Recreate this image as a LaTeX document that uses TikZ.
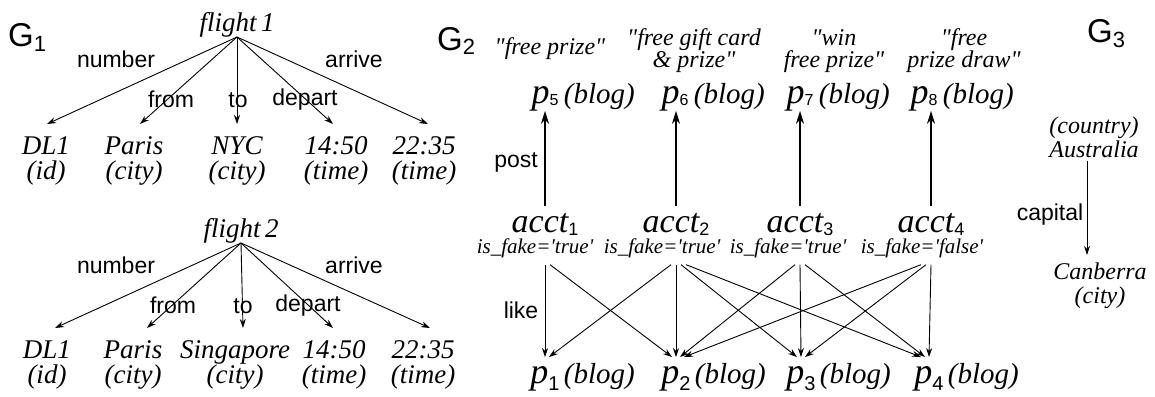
\documentclass[tikz,border=0pt]{standalone}
\usepackage{fontspec}
\setmainfont{Liberation Serif}
\setsansfont{Liberation Sans}
\usepackage{tikz}
\usetikzlibrary{arrows.meta,positioning}

\newcommand{\sfsub}[3]{\raisebox{-#1}{\sffamily\upshape\fontsize{#2}{#2}\selectfont #3}}
\newcommand{\dq}{\textquotedbl}

\begin{document}
\begin{tikzpicture}[
    x=1pt, y=-1pt,
    gname/.style={font=\fontsize{33}{33}\selectfont\sffamily, inner sep=0pt, anchor=base west},
    flight/.style={font=\fontsize{27}{27}\selectfont\itshape, inner sep=0pt, anchor=south},
    leaf/.style={font=\fontsize{27}{25.5}\selectfont\itshape, align=center, inner xsep=0pt, inner ysep=12pt, anchor=north},
    edgelbl/.style={font=\fontsize{23}{23}\selectfont\sffamily, inner sep=0pt, anchor=base},
    qtext/.style={font=\fontsize{24}{22}\selectfont\itshape, align=center, inner sep=0pt},
    pnode/.style={font=\fontsize{36}{36}\selectfont\itshape, inner sep=0pt, anchor=base},
    blog/.style={font=\fontsize{29}{29}\selectfont\itshape, inner sep=0pt, anchor=base west},
    acct/.style={font=\fontsize{34}{34}\selectfont\itshape, inner xsep=0pt, inner ysep=7pt, anchor=base},
    fakelbl/.style={font=\fontsize{21}{21}\selectfont\itshape, inner xsep=0pt, inner ysep=7pt, anchor=base},
    place/.style={font=\fontsize{24}{24}\selectfont\itshape, align=center, inner xsep=0pt, inner ysep=3pt, anchor=north},
    arrow/.style={-{Stealth[length=9pt,width=6pt]}, line width=0.9pt},
    thickarrow/.style={-{Stealth[length=13pt,width=8pt]}, line width=2.2pt}
]
    \useasboundingbox (0,0) rectangle (1155,396);

    % G1
    \node[gname] (g1) at (8,47) {G\sfsub{5pt}{22}{1}};
    \node[flight] (fl1) at (237,37) {flight\,1};
    \node[leaf] (id1) at (46,124) {DL1\\(id)};
    \node[leaf] (from1) at (134,124) {Paris\\(city)};
    \node[leaf] (to1) at (237,124) {NYC\\(city)};
    \node[leaf] (dep1) at (336,124) {14:50\\(time)};
    \node[leaf] (arr1) at (424,124) {22:35\\(time)};
    \foreach \n/\s in {id1/1, from1/6, to1/0, dep1/-3, arr1/4}
        \draw[arrow] (fl1.south) -- ([xshift=\s pt]\n.north);
    \node[edgelbl] (lnum1) at (116,67) {number};
    \node[edgelbl] (lfrom1) at (171,107) {from};
    \node[edgelbl] (lto1) at (238,107) {to};
    \node[edgelbl] (ldep1) at (305,105) {depart};
    \node[edgelbl] (larr1) at (354,67) {arrive};

    \node[flight] (fl2) at (241,243) {flight\,2};
    \node[leaf] (id2) at (47,328) {DL1\\(id)};
    \node[leaf] (from2) at (133,328) {Paris\\(city)};
    \node[leaf] (to2) at (235,328) {Singapore\\(city)};
    \node[leaf] (dep2) at (334,328) {14:50\\(time)};
    \node[leaf] (arr2) at (423,328) {22:35\\(time)};
    \foreach \n/\s in {id2/8, from2/14, to2/8, dep2/-1, arr2/7}
        \draw[arrow] (fl2.south) -- ([xshift=\s pt]\n.north);
    \node[edgelbl] (lnum2) at (116,273) {number};
    \node[edgelbl] (lfrom2) at (173,313) {from};
    \node[edgelbl] (lto2) at (243,313) {to};
    \node[edgelbl] (ldep2) at (308,311) {depart};
    \node[edgelbl] (larr2) at (354,273) {arrive};

    % G2
    \node[gname] (g2) at (437,50) {G\sfsub{5pt}{22}{2}};
    \node[qtext] (q5) at (550,49) {\dq free prize\dq};
    \node[qtext] (q6) at (694,51) {\dq free gift card\\\& prize\dq};
    \node[qtext] (q7) at (834,51) {\dq win\\free prize\dq};
    \node[qtext] (q8) at (964,51) {\dq free\\prize draw\dq};

    \node[pnode] (p5) at (545,103) {p\sfsub{2pt}{16}{5}};
    \node[pnode] (p6) at (675,103) {p\sfsub{2pt}{16}{6}};
    \node[pnode] (p7) at (800,103) {p\sfsub{2pt}{16}{7}};
    \node[pnode] (p8) at (924,103) {p\sfsub{2pt}{16}{8}};
    \foreach \k in {5,...,8}
        \node[blog] (b\k) at ([xshift=5pt]p\k.base east) {(blog)};

    \node[acct] (a1) at (545,232) {acct\sfsub{3pt}{18}{1}};
    \node[acct] (a2) at (676,232) {acct\sfsub{3pt}{18}{2}};
    \node[acct] (a3) at (800,232) {acct\sfsub{3pt}{18}{3}};
    \node[acct] (a4) at (931,232) {acct\sfsub{3pt}{18}{4}};
    \node[fakelbl] (f1) at (535,253) {is\_fake=\textquotesingle true\textquotesingle};
    \node[fakelbl] (f2) at (662,253) {is\_fake=\textquotesingle true\textquotesingle};
    \node[fakelbl] (f3) at (788,253) {is\_fake=\textquotesingle true\textquotesingle};
    \node[fakelbl] (f4) at (922,253) {is\_fake=\textquotesingle false\textquotesingle};

    \foreach \a/\p in {1/5, 2/6, 3/7, 4/8}
        \draw[thickarrow] (a\a.north) -- (a\a.north |- p\p.south);
    \node[edgelbl] (lpost) at (516,167) {post};

    \node[pnode, outer ysep=9pt] (p1) at (545,383) {p\sfsub{7pt}{20}{1}};
    \node[pnode, outer ysep=9pt] (p2) at (676,383) {p\sfsub{7pt}{20}{2}};
    \node[pnode, outer ysep=9pt] (p3) at (801,383) {p\sfsub{7pt}{20}{3}};
    \node[pnode, outer ysep=9pt] (p4) at (929,383) {p\sfsub{7pt}{20}{4}};
    \foreach \k in {1,...,4}
        \node[blog] (b\k) at ([xshift=4pt]p\k.base east) {(blog)};

    \foreach \a/\p in {1/1, 1/2, 2/1, 2/2, 2/3, 2/4, 3/2, 3/3, 3/4, 4/2, 4/3, 4/4} {
        \pgfmathsetmacro\sx{5*(\p-\a)}
        \pgfmathsetmacro\tx{4*(\a-\p)}
        \draw[arrow] ([xshift=\sx pt]f\a.south -| a\a) -- ([xshift=\tx pt]p\p.north);
    }
    \node[edgelbl] (llike) at (521,318) {like};

    % G3
    \node[gname] (g3) at (1087,43) {G\sfsub{5pt}{22}{3}};
    \node[place] (aus) at (1094,114) {(country)\\Australia};
    \node[place, inner ysep=8pt] (can) at (1100,255) {Canberra\\(city)};
    \draw[arrow] ([xshift=-7pt]aus.south) -- ([xshift=-7pt]aus.south |- can.north);
    \node[edgelbl] (lcap) at (1050,220) {capital};
\end{tikzpicture}
\end{document}
